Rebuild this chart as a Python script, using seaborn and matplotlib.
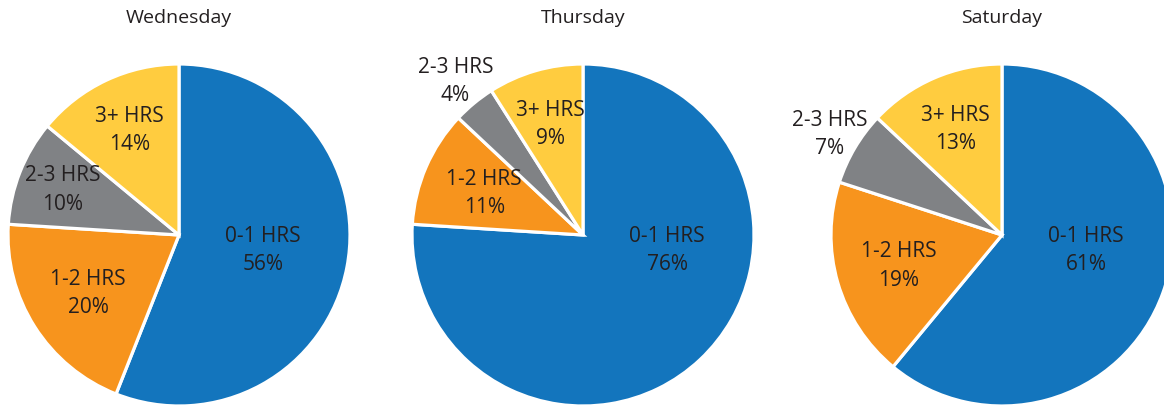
import numpy as np
import matplotlib
matplotlib.use("Agg")
import matplotlib.pyplot as plt
import seaborn as sns

days = ["Wednesday", "Thursday", "Saturday"]
categories = ["0-1 HRS", "1-2 HRS", "2-3 HRS", "3+ HRS"]
wednesday = [56, 20, 10, 14]
thursday = [76, 11, 4, 9]
saturday = [61, 19, 7, 13]
colors = ["#1375BD", "#F7941D", "#808285", "#FFCC3F"]

sns.set_theme(style="white")
plt.rcParams["font.family"] = ["Open Sans", "DejaVu Sans"]

W, H = 1164, 410
fig = plt.figure(figsize=(W / 100, H / 100), dpi=100)

# pie centres (pixels) and radius
centres_x = [179, 583, 1002]
centre_y = 236
radius = 171
inner_r = [0.5, 0.63, 0.73, 0.68]

for day, values, cx in zip(days, [wednesday, thursday, saturday], centres_x):
    ax = fig.add_axes([(cx - radius) / W, (H - centre_y - radius) / H,
                       2 * radius / W, 2 * radius / H])
    wedges, _ = ax.pie(values, colors=colors, startangle=90, counterclock=False,
                       radius=1, wedgeprops=dict(edgecolor="white", linewidth=2.3))
    ax.set_xlim(-1, 1)
    ax.set_ylim(-1, 1)
    ax.set_aspect("equal")
    ax.axis("off")

    for i, (w, cat, v) in enumerate(zip(wedges, categories, values)):
        ang = np.deg2rad((w.theta1 + w.theta2) / 2)
        dist = inner_r[i]
        if i == 0:
            ang = np.deg2rad(-10)
        if v < 8:
            dist = 1.17
        ax.text(dist * np.cos(ang), dist * np.sin(ang), f"{cat}\n{v}%",
                ha="center", va="center", fontsize=15, color="#231F20",
                linespacing=1.45, clip_on=False)

    fig.text(cx / W, (H - 18) / H, day, ha="center", va="center",
             fontsize=14, color="#231F20")

fig.savefig("out.png", dpi=100)
